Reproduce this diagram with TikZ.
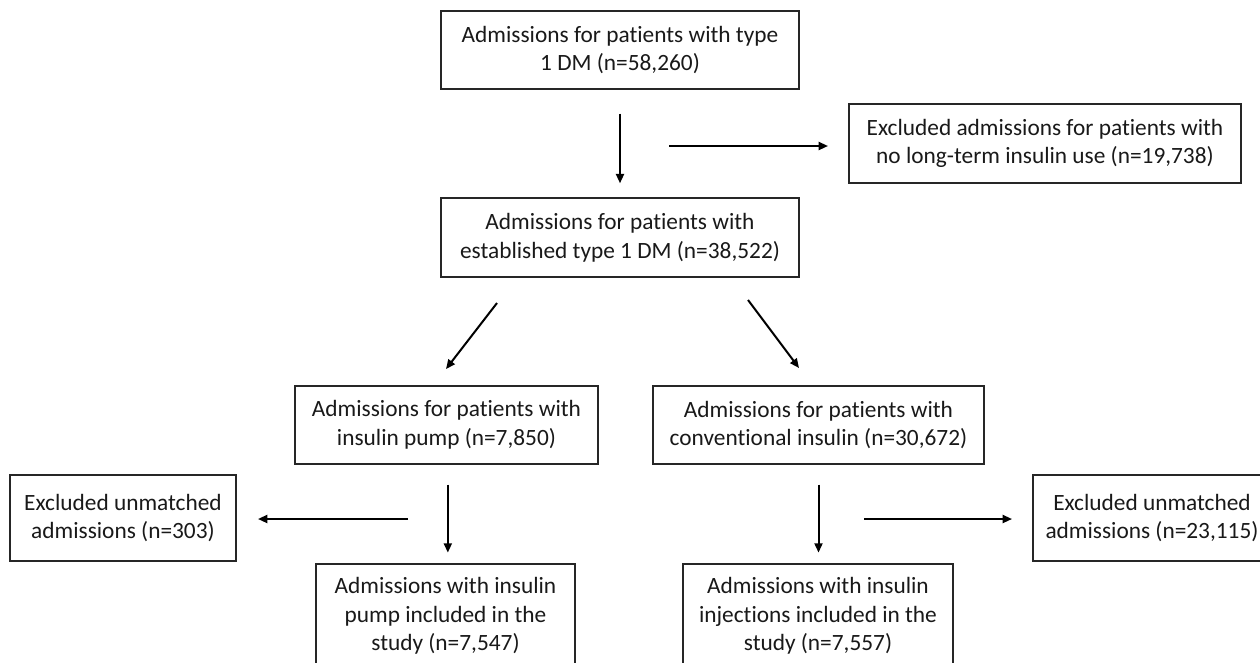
\documentclass[tikz,border=0pt]{standalone}
\usepackage{fontspec}
\setmainfont{Carlito}[Ligatures=NoCommon]
\usetikzlibrary{arrows.meta}
\begin{document}
\begin{tikzpicture}[x=0.75pt,y=-0.75pt,
  box/.style={draw=black!85, line width=1.1pt, inner sep=0pt, align=center,
    text=black!90, font=\fontsize{17.5}{21.5}\selectfont},
  arr/.style={draw=black, line width=1.5pt, -{Triangle[length=7pt,width=6pt]}}]
\useasboundingbox (0,0) rectangle (1260,662);
\node[box, minimum width=268.5pt, minimum height=58.5pt] (top) at (620,50)
  {Admissions for patients with type\\1 DM (n=58,260)};
\node[box, minimum width=268.5pt, minimum height=59.25pt] (mid) at (620,237.5)
  {Admissions for patients with\\established type 1 DM (n=38,522)};
\node[box, minimum width=294pt, minimum height=59.25pt] (exA) at (1045,143.5)
  {Excluded admissions for patients with\\no long-term insulin use (n=19,738)};
\node[box, minimum width=227.25pt, minimum height=58.5pt] (pump) at (446.5,425)
  {Admissions for patients with\\insulin pump (n=7,850)};
\node[box, minimum width=248.25pt, minimum height=58.5pt] (conv) at (818.5,425)
  {Admissions for patients with\\conventional insulin (n=30,672)};
\node[box, minimum width=169.5pt, minimum height=64.5pt] (exL) at (123,518)
  {Excluded unmatched\\admissions (n=303)};
\node[box, minimum width=178.5pt, minimum height=64.5pt] (exR) at (1152,518)
  {Excluded unmatched\\admissions (n=23,115)};
\node[box, minimum width=194.25pt, minimum height=78pt] (botL) at (445.5,616)
  {Admissions with insulin\\pump included in the\\study (n=7,547)};
\node[box, minimum width=202.5pt, minimum height=78pt] (botR) at (818,616)
  {Admissions with insulin\\injections included in the\\study (n=7,557)};
% free arrow ends
\coordinate (hA1) at (669,146);
\coordinate (hA2) at (828,146);
\coordinate (dL1) at (497,303);
\coordinate (dL2) at (446,369);
\coordinate (dR1) at (748,300);
\coordinate (dR2) at (799,368);
\coordinate (hL1) at (408,519);
\coordinate (hL2) at (258,519);
\coordinate (hR1) at (864,519);
\coordinate (hR2) at (1012,519);
\draw[arr, shorten <=18pt, shorten >=10.5pt] (top.south) -- (top.south |- mid.north);
\draw[arr] (hA1) -- (hA2);
\draw[arr] (dL1) -- (dL2);
\draw[arr] (dR1) -- (dR2);
\draw[arr, shorten <=15pt, shorten >=8pt] ([xshift=1pt]pump.south) -- ([xshift=1pt]pump.south |- botL.north);
\draw[arr, shorten <=15pt, shorten >=8pt] (conv.south) -- (conv.south |- botR.north);
\draw[arr] (hL1) -- (hL2);
\draw[arr] (hR1) -- (hR2);
\end{tikzpicture}
\end{document}
